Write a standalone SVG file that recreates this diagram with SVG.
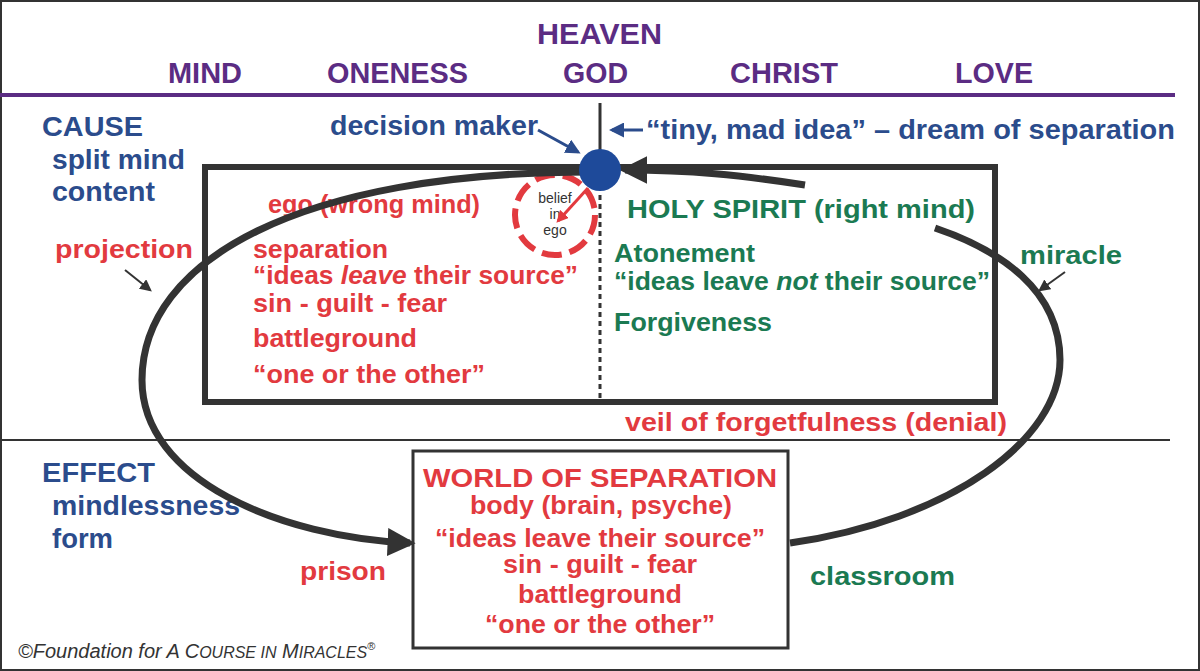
<svg xmlns="http://www.w3.org/2000/svg" width="1200" height="671" viewBox="0 0 1200 671">
<style>
text{font-family:"Liberation Sans",Arial,sans-serif;font-weight:bold}
.p{fill:#5b2c83;font-size:29px}
.b{fill:#2b4c8c;font-size:27px}
.r{fill:#e23a3f;font-size:25px}
.g{fill:#1b7a52;font-size:26px}
.k{stroke:#333;fill:none}
</style>
<defs>
<marker id="ah" viewBox="0 0 10 10" refX="8" refY="5" markerWidth="4" markerHeight="4" orient="auto" markerUnits="strokeWidth"><path d="M0,0 L10,5 L0,10 z" fill="#333"/></marker>
<marker id="as" viewBox="0 0 10 10" refX="8" refY="5" markerWidth="6" markerHeight="6" orient="auto" markerUnits="strokeWidth"><path d="M0,0 L10,5 L0,10 z" fill="#333"/></marker>
<marker id="ab" viewBox="0 0 10 10" refX="8" refY="5" markerWidth="5" markerHeight="5" orient="auto" markerUnits="strokeWidth"><path d="M0,0 L10,5 L0,10 z" fill="#2b4c8c"/></marker>
<marker id="ar" viewBox="0 0 10 10" refX="8" refY="5" markerWidth="4" markerHeight="4" orient="auto" markerUnits="strokeWidth"><path d="M0,0 L10,5 L0,10 z" fill="#e23a3f"/></marker>
</defs>
<rect x="1" y="1" width="1198" height="669" fill="#fff" stroke="#333" stroke-width="2"/>
<g id="heaven">
<text class="p" x="537" y="44" textLength="125" lengthAdjust="spacingAndGlyphs">HEAVEN</text>
<text class="p" x="168" y="83" textLength="74" lengthAdjust="spacingAndGlyphs">MIND</text>
<text class="p" x="327" y="83" textLength="141" lengthAdjust="spacingAndGlyphs">ONENESS</text>
<text class="p" x="563" y="83" textLength="65" lengthAdjust="spacingAndGlyphs">GOD</text>
<text class="p" x="730" y="83" textLength="108" lengthAdjust="spacingAndGlyphs">CHRIST</text>
<text class="p" x="955" y="83" textLength="78" lengthAdjust="spacingAndGlyphs">LOVE</text>
<line x1="0" y1="95" x2="1175" y2="95" stroke="#5b2c83" stroke-width="4"/>
</g>
<g id="cause">
<text class="b" x="42" y="136" textLength="101" lengthAdjust="spacingAndGlyphs">CAUSE</text>
<text class="b" x="52" y="169" textLength="133" lengthAdjust="spacingAndGlyphs">split mind</text>
<text class="b" x="52" y="201" textLength="103" lengthAdjust="spacingAndGlyphs">content</text>
</g>
<g id="effect">
<line x1="0" y1="440" x2="1170" y2="440" stroke="#333" stroke-width="2"/>
<text class="b" x="42" y="482" textLength="113" lengthAdjust="spacingAndGlyphs">EFFECT</text>
<text class="b" x="52" y="515" textLength="188" lengthAdjust="spacingAndGlyphs">mindlessness</text>
<text class="b" x="52" y="548" textLength="61" lengthAdjust="spacingAndGlyphs">form</text>
</g>
<g id="mindbox">
<rect x="205" y="167" width="790" height="235" class="k" stroke-width="6"/>
<line x1="600" y1="195" x2="600" y2="400" stroke="#333" stroke-width="3" stroke-dasharray="5,4"/>
<line x1="600" y1="103" x2="600" y2="150" stroke="#333" stroke-width="3"/>
</g>
<g id="ego">
<text class="r" x="268" y="213" textLength="212" lengthAdjust="spacingAndGlyphs">ego (wrong mind)</text>
<circle cx="555" cy="215" r="40" fill="#fff" stroke="#e23a3f" stroke-width="6" stroke-dasharray="20,8"/>
<text x="555" y="203" text-anchor="middle" font-size="14" style="font-weight:normal" fill="#333">belief</text>
<text x="555" y="219" text-anchor="middle" font-size="14" style="font-weight:normal" fill="#333">in</text>
<text x="555" y="235" text-anchor="middle" font-size="14" style="font-weight:normal" fill="#333">ego</text>
<text class="r" x="253" y="258" textLength="135" lengthAdjust="spacingAndGlyphs">separation</text>
<text class="r" x="253" y="284" textLength="325" lengthAdjust="spacingAndGlyphs">“ideas <tspan font-style="italic">leave</tspan> their source”</text>
<text class="r" x="253" y="312" textLength="194" lengthAdjust="spacingAndGlyphs">sin - guilt - fear</text>
<text class="r" x="253" y="347" textLength="164" lengthAdjust="spacingAndGlyphs">battleground</text>
<text class="r" x="253" y="383" textLength="232" lengthAdjust="spacingAndGlyphs">“one or the other”</text>
</g>
<g id="holyspirit">
<text class="g" x="627" y="218" textLength="348" lengthAdjust="spacingAndGlyphs">HOLY SPIRIT (right mind)</text>
<text class="g" x="614" y="262" textLength="141" lengthAdjust="spacingAndGlyphs">Atonement</text>
<text class="g" x="614" y="290" textLength="376" lengthAdjust="spacingAndGlyphs">“ideas leave <tspan font-style="italic">not</tspan> their source”</text>
<text class="g" x="614" y="331" textLength="158" lengthAdjust="spacingAndGlyphs">Forgiveness</text>
</g>
<g id="world">
<rect x="413" y="451" width="375" height="197" class="k" stroke-width="3"/>
<text class="r" x="423" y="487" font-size="27" textLength="354" lengthAdjust="spacingAndGlyphs">WORLD OF SEPARATION</text>
<text class="r" x="470" y="514" textLength="262" lengthAdjust="spacingAndGlyphs">body (brain, psyche)</text>
<text class="r" x="435" y="547" textLength="330" lengthAdjust="spacingAndGlyphs">“ideas leave their source”</text>
<text class="r" x="503" y="573" textLength="194" lengthAdjust="spacingAndGlyphs">sin - guilt - fear</text>
<text class="r" x="518" y="603" textLength="164" lengthAdjust="spacingAndGlyphs">battleground</text>
<text class="r" x="485" y="633" textLength="230" lengthAdjust="spacingAndGlyphs">“one or the other”</text>
</g>
<g id="labels">
<text class="b" x="330" y="135" textLength="208" lengthAdjust="spacingAndGlyphs">decision maker</text>
<text class="b" x="646" y="139" textLength="529" lengthAdjust="spacingAndGlyphs">“tiny, mad idea” – dream of separation</text>
<text class="r" x="55" y="258" textLength="138" lengthAdjust="spacingAndGlyphs">projection</text>
<text class="g" x="1020" y="264" textLength="102" lengthAdjust="spacingAndGlyphs">miracle</text>
<text class="r" x="625" y="431" textLength="382" lengthAdjust="spacingAndGlyphs">veil of forgetfulness (denial)</text>
<text class="r" x="300" y="580" textLength="86" lengthAdjust="spacingAndGlyphs">prison</text>
<text class="g" x="810" y="585" textLength="145" lengthAdjust="spacingAndGlyphs">classroom</text>
<text x="18" y="658" font-family="Liberation Serif,serif" font-style="italic" font-size="20" style="font-weight:normal" fill="#333">©Foundation for A C<tspan font-size="16">OURSE IN</tspan> M<tspan font-size="16">IRACLES</tspan><tspan font-size="11" dy="-8" font-style="normal">®</tspan></text>
</g>
<g id="connectors">
<path d="M590 172 C300 172 142 260 142 380 C142 480 280 537 410 543" class="k" stroke-width="7" marker-end="url(#ah)"/>
<path d="M790 543 C950 520 1060 440 1060 360 C1060 290 1000 250 935 228" class="k" stroke-width="7"/>
<path d="M805 185 C740 175 690 170 625 170" class="k" stroke-width="7" marker-end="url(#ah)"/>
<line x1="538" y1="130" x2="578" y2="152" stroke="#2b4c8c" stroke-width="3" marker-end="url(#ab)"/>
<line x1="643" y1="130" x2="612" y2="130" stroke="#2b4c8c" stroke-width="3" marker-end="url(#ab)"/>
<line x1="588" y1="188" x2="558" y2="221" stroke="#e23a3f" stroke-width="3" marker-end="url(#ar)"/>
<line x1="125" y1="270" x2="150" y2="290" stroke="#333" stroke-width="2" marker-end="url(#as)"/>
<line x1="1065" y1="272" x2="1040" y2="290" stroke="#333" stroke-width="2" marker-end="url(#as)"/>
</g>
<g id="decisionmaker"><circle cx="600" cy="170" r="21" fill="#1e4a9a"/></g>
</svg>
